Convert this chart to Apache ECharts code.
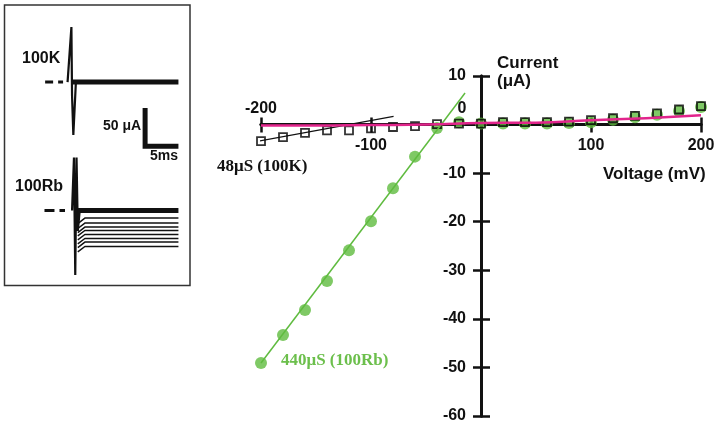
<!DOCTYPE html>
<html>
<head>
<meta charset="utf-8">
<script src="https://cdn.jsdelivr.net/npm/echarts@6/dist/echarts.min.js"></script>
<style>
  html, body { margin: 0; padding: 0; background: #fff; }
  #chart { width: 721px; height: 426px; }
</style>
</head>
<body>
<div id="chart"></div>
<script>
// I-V data (mV, uA)
var voltages = [-200, -180, -160, -140, -120, -100, -80, -60, -40, -20, 0,
                20, 40, 60, 80, 100, 120, 140, 160, 180, 200];
var current100K = [-3.4, -2.6, -1.7, -1.2, -1.2, -0.8, -0.5, -0.3, 0.1, 0.2, 0.2,
                   0.5, 0.5, 0.5, 0.6, 0.9, 1.3, 1.8, 2.3, 3.1, 3.8];
var current100Rb = [-49.1, -43.3, -38.2, -32.2, -25.9, -19.9, -13.1, -6.6, -0.7, 0.5, 0.2,
                    0.2, 0.2, 0.2, 0.3, 0.5, 1.0, 1.5, 2.0, 2.8, 3.6];
// linear fits (end points)
var fit100KV = [-219, -79.5];
var fit100KI = [-4.1, 1.7];
var fit100RbV = [-200, -14.5];
var fit100RbI = [-49.1, 6.5];
// magenta curve
var curveV = [-200, -150, -100, -50, 0, 50, 100, 150, 200];
var curveI = [-0.2, -0.2, -0.1, 0, 0.3, 0.4, 0.9, 1.3, 1.9];
var labelsAbove = [-200, 0];
var labelsBelow = [-100, 100, 200];

// inset traces (ms, uA)
var kSpikeT = [4.3, 4.9, 5.0, 5.2, 5.6];
var kSpikeI = [0, 81, -20, -78, 0];
var rbSpikeT = [5.0, 5.3, 5.5, 5.7, 5.9, 6.2];
var rbSpikeI = [0, 78, -95, 78, -30, 0];
var rbLevels = [-11.2, -18.5, -24.4, -29.4, -35.3, -41.2, -46.5, -52.9];
var traceEnd = 21.6;

var green = '#5fbb3f';
var magenta = '#e2258c';

function zip(a, b) {
  var out = [];
  for (var i = 0; i < a.length; i++) out.push([a[i], b[i]]);
  return out;
}

var chart = echarts.init(document.getElementById('chart'));

// main grid: x -200..200 over 440px, y -60..10 over 340px; axes cross at (0,0)
var gridTop = 76, gridH = 340, gridLeft = 261, gridW = 440;
var zeroFromTop = gridH * 10 / 70;
var zeroFromBottom = gridH - zeroFromTop;
var zeroFromLeft = gridW / 2;

var tickFont = { fontFamily: 'Liberation Sans', fontWeight: 'bold', fontSize: 16, color: '#111' };
var axisLine = { onZero: false, lineStyle: { color: '#111', width: 3 } };

var rbTraces = rbLevels.map(function (lv) {
  return {
    type: 'line', xAxisIndex: 3, yAxisIndex: 3, symbol: 'none', silent: true,
    data: [[5.9, lv - 8], [7.0, lv], [traceEnd, lv]],
    lineStyle: { color: '#111', width: 1.5 }
  };
});

var option = {
  animation: false,
  grid: [
    { left: gridLeft, width: gridW, top: gridTop, height: gridH, outerBoundsMode: 'none' },
    { left: 40, width: 141, top: 21, height: 129, outerBoundsMode: 'none' },
    { left: 40, width: 141, top: 152.7, height: 125.8, outerBoundsMode: 'none' }
  ],
  xAxis: [
    {
      type: 'value', gridIndex: 0, position: 'bottom', offset: -zeroFromBottom,
      min: -200, max: 200, interval: 100,
      axisLine: axisLine, splitLine: { show: false },
      axisTick: { length: 8, lineStyle: { color: '#111', width: 2.5 } },
      axisLabel: Object.assign({ margin: 13, formatter: function (v) {
        return labelsBelow.indexOf(v) >= 0 ? String(v) : '';
      } }, tickFont)
    },
    {
      type: 'value', gridIndex: 0, position: 'top', offset: -zeroFromTop,
      min: -200, max: 200, interval: 100,
      axisLine: axisLine, splitLine: { show: false },
      axisTick: { length: 7, lineStyle: { color: '#111', width: 2.5 } },
      axisLabel: Object.assign({ margin: 8, formatter: function (v) {
        if (labelsAbove.indexOf(v) < 0) return '';
        return v === 0 ? '{z|0}' : String(v);
      }, rich: { z: { fontFamily: 'Liberation Sans', fontWeight: 'bold', fontSize: 16, color: '#111', padding: [0, 38, 0, 0] } } }, tickFont)
    },
    { type: 'value', gridIndex: 1, min: 0, max: 22, show: false },
    { type: 'value', gridIndex: 2, min: 0, max: 22, show: false }
  ],
  yAxis: [
    {
      type: 'value', gridIndex: 0, position: 'left', offset: -zeroFromLeft,
      min: -60, max: 10, interval: 10,
      axisLine: axisLine, splitLine: { show: false },
      axisTick: { length: 8, lineStyle: { color: '#111', width: 2.5 } },
      axisLabel: Object.assign({ margin: 15, formatter: function (v) {
        return v === 0 ? '' : String(v);
      } }, tickFont)
    },
    {
      type: 'value', gridIndex: 0, position: 'right', offset: -zeroFromLeft,
      min: -60, max: 10, interval: 10,
      axisLine: axisLine, splitLine: { show: false },
      axisTick: { length: 9, lineStyle: { color: '#111', width: 2.5 } },
      axisLabel: { show: false }
    },
    { type: 'value', gridIndex: 1, min: -100, max: 90, show: false },
    { type: 'value', gridIndex: 2, min: -100, max: 85, show: false }
  ],
  series: [
    {
      name: 'fit 100K', type: 'line', symbol: 'none', clip: false, silent: true,
      data: zip(fit100KV, fit100KI),
      lineStyle: { color: '#111', width: 1.3 }
    },
    {
      name: 'fit 100Rb', type: 'line', symbol: 'none', clip: false, silent: true,
      data: zip(fit100RbV, fit100RbI),
      lineStyle: { color: green, width: 1.5 }
    },
    {
      name: '100Rb', type: 'scatter', symbol: 'circle', symbolSize: 12,
      data: zip(voltages, current100Rb),
      itemStyle: { color: green }
    },
    {
      name: '100K', type: 'scatter', symbol: 'rect', symbolSize: 8,
      data: zip(voltages, current100K),
      itemStyle: { color: 'rgba(0,0,0,0)', borderColor: '#000', borderWidth: 1.8 }
    },
    {
      name: 'curve', type: 'line', symbol: 'none', smooth: true, silent: true,
      data: zip(curveV, curveI),
      lineStyle: { color: magenta, width: 2.5 }
    },
    // inset: 100K
    {
      type: 'line', xAxisIndex: 2, yAxisIndex: 2, symbol: 'none', silent: true,
      data: [[0.8, 0], [3.6, 0]],
      lineStyle: { color: '#111', width: 3, type: [8, 5] }
    },
    {
      type: 'line', xAxisIndex: 2, yAxisIndex: 2, symbol: 'none', silent: true,
      data: zip(kSpikeT, kSpikeI),
      lineStyle: { color: '#111', width: 2.2 }
    },
    {
      type: 'line', xAxisIndex: 2, yAxisIndex: 2, symbol: 'none', silent: true,
      data: [[5.0, 0], [traceEnd, 0]],
      lineStyle: { color: '#111', width: 5 }
    },
    {
      type: 'line', xAxisIndex: 2, yAxisIndex: 2, symbol: 'none', silent: true,
      data: [[16.4, -38], [16.4, -94.3], [traceEnd, -94.3]],
      lineStyle: { color: '#111', width: 5, cap: 'butt', join: 'miter' }
    },
    // inset: 100Rb
    {
      type: 'line', xAxisIndex: 3, yAxisIndex: 3, symbol: 'none', silent: true,
      data: [[0.7, 0], [3.9, 0]],
      lineStyle: { color: '#111', width: 3, type: [10, 5] }
    },
    {
      type: 'line', xAxisIndex: 3, yAxisIndex: 3, symbol: 'none', silent: true,
      data: zip(rbSpikeT, rbSpikeI),
      lineStyle: { color: '#111', width: 2.2 }
    },
    {
      type: 'line', xAxisIndex: 3, yAxisIndex: 3, symbol: 'none', silent: true,
      data: [[5.8, 0], [traceEnd, 0]],
      lineStyle: { color: '#111', width: 5 }
    }
  ].concat(rbTraces),
  graphic: [
    { type: 'rect', shape: { x: 4.5, y: 5, width: 185.5, height: 280.5 },
      style: { fill: 'none', stroke: '#333', lineWidth: 1.5 }, silent: true },
    { type: 'text', left: 497, top: 54,
      style: { text: 'Current\n(μA)', font: 'bold 17px "Liberation Sans"', fill: '#111', lineHeight: 18 } },
    { type: 'text', left: 603, top: 166,
      style: { text: 'Voltage (mV)', font: 'bold 17px "Liberation Sans"', fill: '#111' } },
    { type: 'text', left: 217, top: 158,
      style: { text: '48μS (100K)', font: 'bold 17px "Liberation Serif"', fill: '#111' } },
    { type: 'text', left: 281, top: 352,
      style: { text: '440μS (100Rb)', font: 'bold 17px "Liberation Serif"', fill: '#6cbf4c' } },
    { type: 'text', left: 22, top: 51,
      style: { text: '100K', font: 'bold 16px "Liberation Sans"', fill: '#111' } },
    { type: 'text', left: 15, top: 179,
      style: { text: '100Rb', font: 'bold 16px "Liberation Sans"', fill: '#111' } },
    { type: 'text', left: 103, top: 119,
      style: { text: '50 μA', font: 'bold 14px "Liberation Sans"', fill: '#111' } },
    { type: 'text', left: 150, top: 149,
      style: { text: '5ms', font: 'bold 14px "Liberation Sans"', fill: '#111' } }
  ]
};

chart.setOption(option);
</script>
</body>
</html>
